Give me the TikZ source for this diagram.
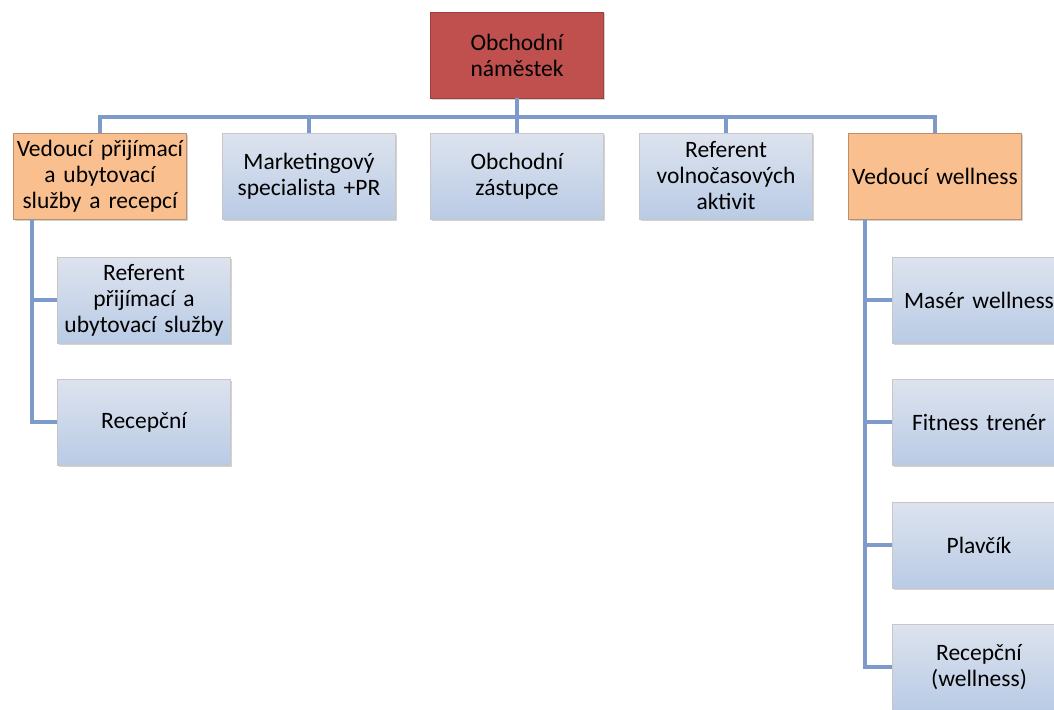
\documentclass[tikz,border=0pt]{standalone}
\usepackage{fontspec}
\setmainfont{Carlito}
\usetikzlibrary{shadows}

\definecolor{linkblue}{RGB}{124,155,203}
\definecolor{bossred}{RGB}{192,80,77}
\definecolor{headorange}{RGB}{250,191,143}
\definecolor{boxtop}{RGB}{221,227,238}
\definecolor{boxbottom}{RGB}{185,203,229}

\tikzset{
  unit/.style={minimum width=173pt, minimum height=86pt, text width=169pt,
    align=center, inner sep=2pt, font=\fontsize{23.5}{26}\selectfont,
    drop shadow={shadow xshift=1.5pt, shadow yshift=-1.5pt, opacity=0.35}},
  boss/.style={unit, fill=bossred, draw=bossred!80!black, line width=0.6pt},
  head/.style={unit, fill=headorange, draw=headorange!75!black, line width=0.6pt},
  staff/.style={unit, top color=boxtop, bottom color=boxbottom,
    draw=black!22, line width=0.6pt},
  link/.style={draw=linkblue, line width=3.2pt}
}

\begin{document}
\begin{tikzpicture}[x=1pt, y=-1pt]
    \useasboundingbox (0,0) rectangle (1054,709);
    \clip (0,0) rectangle (1054,709);

    \node [boss] (boss) at (517, 55) {Obchodní\\náměstek};

    \node [head]  (recept) at (100, 176) {Vedoucí přijímací\\a ubytovací\\služby a recepcí};
    \node [staff] (market) at (309, 176) {Marketingový\\specialista +PR};
    \node [staff] (sales)  at (517, 176) {Obchodní\\zástupce};
    \node [staff] (leisure) at (726, 176) {Referent\\volnočasových\\aktivit};
    \node [head]  (well)   at (935, 176) {Vedoucí wellness};

    \node [staff] (refer)  at (144, 300) {Referent\\přijímací a\\ubytovací služby};
    \node [staff] (desk)   at (144, 422) {Recepční};

    \node [staff, text width=150pt] (masseur) at (979, 300) {Masér wellness};
    \node [staff, text width=150pt] (fitness) at (979, 422) {Fitness trenér};
    \node [staff, text width=150pt] (guard)   at (979, 545) {Plavčík};
    \node [staff, text width=150pt] (wdesk)   at (979, 667) {Recepční\\(wellness)};

    % top level links
    \coordinate (bar) at (517, 117);
    \draw [link] (boss.south) -- (bar);
    \draw [link] (recept.north) -- (recept.north |- bar) -- (well.north |- bar) -- (well.north);
    \draw [link] (market.north) -- (market.north |- bar);
    \draw [link] (sales.north) -- (sales.north |- bar);
    \draw [link] (leisure.north) -- (leisure.north |- bar);

    % reception branch
    \coordinate (lefttrunk) at (32, 219);
    \draw [link] (lefttrunk) |- (desk.west);
    \draw [link] (lefttrunk |- refer.west) -- (refer.west);

    % wellness branch
    \coordinate (righttrunk) at (865, 219);
    \draw [link] (righttrunk) |- (wdesk.west);
    \draw [link] (righttrunk |- masseur.west) -- (masseur.west);
    \draw [link] (righttrunk |- fitness.west) -- (fitness.west);
    \draw [link] (righttrunk |- guard.west) -- (guard.west);
\end{tikzpicture}
\end{document}
